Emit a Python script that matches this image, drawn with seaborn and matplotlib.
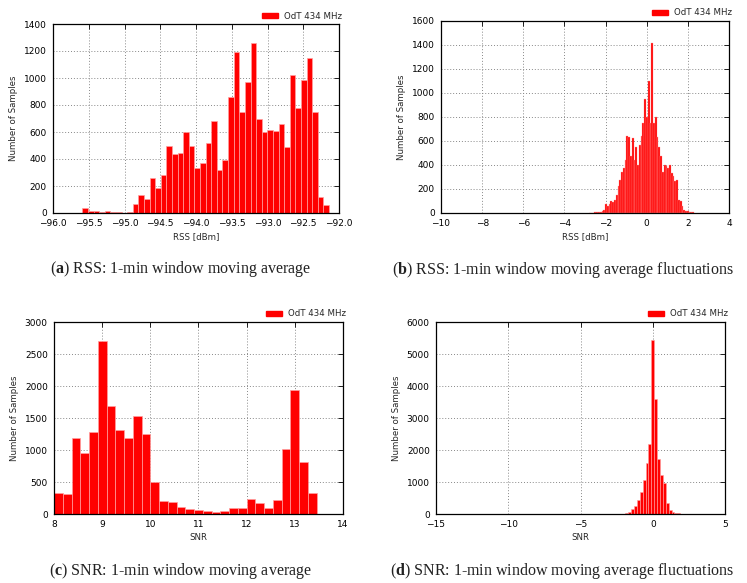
import numpy as np
import pandas as pd
import matplotlib
matplotlib.use("Agg")
import matplotlib.pyplot as plt
from matplotlib.patches import Patch
import seaborn as sns

# ---------------- data ----------------
legend_label = "OdT 434 MHz"

# (a) RSS 1-min moving average
rss_avg_range = (-95.59, -92.14)
rss_avg_counts = [37, 17, 17, 10, 17, 10, 5, 2, 7, 65, 135, 107, 262, 185, 280,
                  494, 440, 442, 600, 499, 333, 373, 519, 681, 316, 393,
                  859, 1190, 746, 970, 1257, 696, 600, 617, 607, 662, 489,
                  1022, 780, 988, 1151, 746, 119, 57]
rss_avg_xticks = [-96.0, -95.5, -95.0, -94.5, -94.0, -93.5, -93.0, -92.5, -92.0]
rss_avg_yticks = [0, 200, 400, 600, 800, 1000, 1200, 1400]

# (b) RSS fluctuations
rss_fl_range = (-2.8, 2.3)
rss_fl_counts = [2, 3, 3, 5, 6, 8, 12, 18,
                 28, 72, 55, 78, 100, 94, 111, 152, 222, 277,
                 338, 374, 443, 643, 637, 471, 623, 438, 554, 402,
                 568, 643, 748, 947, 803, 1100, 748, 1413, 748, 803,
                 637, 554, 471, 338, 402, 388, 374, 402, 332, 305,
                 263, 277, 111, 100, 55, 28, 19, 14,
                 10, 7, 5]
rss_fl_xticks = [-10, -8, -6, -4, -2, 0, 2, 4]
rss_fl_yticks = [0, 200, 400, 600, 800, 1000, 1200, 1400, 1600]

# (c) SNR 1-min moving average
snr_avg_range = (8.0, 13.45)
snr_avg_counts = [322, 312, 1180, 946, 1274, 2704, 1690, 1316, 1186, 1534,
                  1253, 494, 208, 187, 109, 73, 62, 42, 36, 42,
                  88, 99, 239, 177, 88, 213, 1019, 1934, 806, 322]
snr_avg_xticks = [8, 9, 10, 11, 12, 13, 14]
snr_avg_yticks = [0, 500, 1000, 1500, 2000, 2500, 3000]

# (d) SNR fluctuations
snr_fl_range = (-2.3, 2.5)
snr_fl_counts = [4, 8, 20, 60, 150, 260, 450, 690, 1050, 1600, 2200,
                 5440, 3580, 1730, 1220, 970, 330, 120, 60, 35, 20, 12, 5, 3]
snr_fl_xticks = [-15, -10, -5, 0, 5]
snr_fl_yticks = [0, 1000, 2000, 3000, 4000, 5000, 6000]

x_labels = ["RSS [dBm]", "RSS [dBm]", "SNR", "SNR"]
y_label = "Number of Samples"
captions = [("a", "RSS: 1-min window moving average"),
            ("b", "RSS: 1-min window moving average fluctuations"),
            ("c", "SNR: 1-min window moving average"),
            ("d", "SNR: 1-min window moving average fluctuations")]

# ---------------- style ----------------
sns.set_style("white")
plt.rcParams["font.family"] = ["DejaVu Sans"]
plt.rcParams["mathtext.fontset"] = "custom"
plt.rcParams["mathtext.rm"] = "Liberation Serif"
plt.rcParams["mathtext.bf"] = "Liberation Serif:bold"

fig = plt.figure(figsize=(7.47, 5.83), dpi=100)
W, H = 747.0, 583.0

def axes_rect(l, r, t, b):
    return [l / W, 1 - b / H, (r - l) / W, (b - t) / H]

rects = [axes_rect(53, 339, 24, 213), axes_rect(441, 729, 21, 213),
         axes_rect(54, 343, 322, 514), axes_rect(436, 725, 322, 514)]

panels = [
    (rss_avg_range, rss_avg_counts, rss_avg_xticks, rss_avg_yticks),
    (rss_fl_range, rss_fl_counts, rss_fl_xticks, rss_fl_yticks),
    (snr_avg_range, snr_avg_counts, snr_avg_xticks, snr_avg_yticks),
    (snr_fl_range, snr_fl_counts, snr_fl_xticks, snr_fl_yticks),
]
edge_styles = [("#ffa0a0", 0.5), ("#ff9a9a", 0.25), ("#ffa0a0", 0.5), ("#ffa0a0", 0.4)]

caption_pos = [(181, 269), (563, 270), (181, 571), (562, 571)]

for i, (rect, (rng, counts, xt, yt)) in enumerate(zip(rects, panels)):
    ax = fig.add_axes(rect)
    n = len(counts)
    width = (rng[1] - rng[0]) / n
    centers = rng[0] + width * (np.arange(n) + 0.5)
    df = pd.DataFrame({"x": centers, "w": np.asarray(counts, dtype=float)})
    ec, lw = edge_styles[i]
    sns.histplot(data=df, x="x", weights="w", bins=n, binrange=rng,
                 color="#ff0000", alpha=1.0, edgecolor=ec,
                 linewidth=lw, ax=ax)
    ax.set_xlim(xt[0], xt[-1])
    ax.set_ylim(yt[0], yt[-1])
    ax.set_xticks(xt)
    ax.set_yticks(yt)
    if i == 0:
        ax.set_xticklabels([f"{v:.1f}".replace("-", "\u2212") for v in xt])
    ax.set_axisbelow(True)
    ax.grid(True, linestyle=(0, (1, 2)), color="#888888", linewidth=0.7)
    ax.tick_params(direction="in", top=True, right=True, length=3.5, width=0.6,
                   labelsize=6.5, pad=4.5, colors="black")
    for s in ax.spines.values():
        s.set_color("black")
        s.set_linewidth(0.9)
    ax.set_xlabel(x_labels[i], fontsize=6.2, labelpad=3)
    ax.set_ylabel(y_label, fontsize=6.2, labelpad=4)
    ax.legend(handles=[Patch(facecolor="#ff0000", edgecolor="#ff0000", label=legend_label)],
              loc="center right", bbox_to_anchor=(1.012, 1.042), frameon=False,
              fontsize=6.2, borderpad=0, borderaxespad=0, handlelength=1.9,
              handleheight=0.6, handletextpad=0.75)
    letter, text = captions[i]
    cx, cy = caption_pos[i]
    fig.text(cx / W, 1 - cy / H, r"($\mathbf{" + letter + r"}$) " + text,
             ha="center", va="center", fontsize=11.5,
             family=["Liberation Serif"], color="#222222")

fig.savefig("out.png", dpi=100)
